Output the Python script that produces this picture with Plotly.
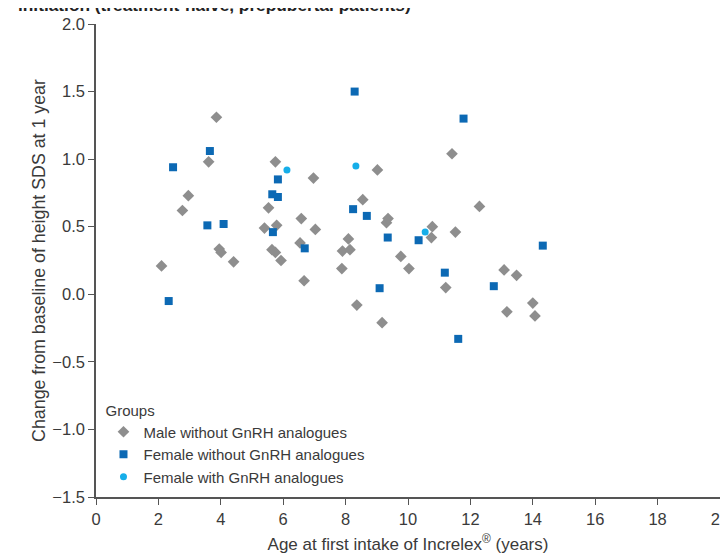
import plotly.graph_objects as go

# Male without GnRH analogues
male_x = [2.10, 2.77, 2.96, 3.61, 3.86, 3.95, 4.01, 4.41, 5.40, 5.53, 5.64, 5.75, 5.75, 5.79,
          5.93, 6.54, 6.58, 6.67, 6.97, 7.03, 7.88, 7.90, 8.09, 8.14, 8.36, 8.55, 9.02, 9.17,
          9.31, 9.36, 9.77, 10.03, 10.75, 10.78, 11.21, 11.41, 11.52, 12.29, 13.08, 13.17,
          13.48, 14.00, 14.07]
male_y = [0.21, 0.62, 0.73, 0.98, 1.31, 0.335, 0.31, 0.24, 0.49, 0.64, 0.33, 0.31, 0.98, 0.51,
          0.25, 0.38, 0.56, 0.10, 0.86, 0.48, 0.19, 0.32, 0.41, 0.33, -0.08, 0.70, 0.92, -0.21,
          0.53, 0.56, 0.28, 0.19, 0.42, 0.50, 0.05, 1.04, 0.46, 0.65, 0.18, -0.13,
          0.14, -0.065, -0.16]

# Female without GnRH analogues
fem_x = [2.33, 2.47, 3.57, 3.65, 4.09, 5.65, 5.67, 5.83, 5.83, 6.69, 8.24, 8.29, 8.68, 9.09,
         9.35, 10.34, 11.18, 11.61, 11.78, 12.75, 14.32]
fem_y = [-0.05, 0.94, 0.51, 1.06, 0.52, 0.74, 0.46, 0.85, 0.72, 0.34, 0.63, 1.50, 0.58, 0.045,
         0.42, 0.40, 0.16, -0.33, 1.30, 0.06, 0.36]

# Female with GnRH analogues
femg_x = [6.12, 8.33, 10.55]
femg_y = [0.92, 0.95, 0.46]

x_ticks = [0, 2, 4, 6, 8, 10, 12, 14, 16, 18, 20]
y_ticks = [-1.5, -1.0, -0.5, 0.0, 0.5, 1.0, 1.5, 2.0]
y_tick_text = ["\u22121.5", "\u22121.0", "\u22120.5", "0.0", "0.5", "1.0", "1.5", "2.0"]

FONT = "Liberation Sans, Arial, sans-serif"
TXT = "#3a3a3a"

fig = go.Figure()
fig.add_trace(go.Scatter(x=male_x, y=male_y, mode="markers", name="Male without GnRH analogues",
                         marker=dict(symbol="diamond", size=9, color="#8e8e8e", line=dict(width=0))))
fig.add_trace(go.Scatter(x=fem_x, y=fem_y, mode="markers", name="Female without GnRH analogues",
                         marker=dict(symbol="square", size=8, color="#0c69b4", line=dict(width=0))))
fig.add_trace(go.Scatter(x=femg_x, y=femg_y, mode="markers", name="Female with GnRH analogues",
                         marker=dict(symbol="circle", size=7, color="#16aee9", line=dict(width=0))))

# the page body adds an 8 px offset, so the figure is sized to fit the window
fig.update_layout(
    width=720, height=546,
    margin=dict(l=88, r=8, t=16, b=57),
    paper_bgcolor="white", plot_bgcolor="white",
    font=dict(family=FONT, size=15, color=TXT),
    showlegend=True,
    legend=dict(title=dict(text="Groups", font=dict(size=15, color=TXT)),
                x=0.012, y=0.2135, xanchor="left", yanchor="top",
                bgcolor="rgba(255,255,255,0)", font=dict(size=15, color=TXT),
                itemsizing="trace", tracegroupgap=0),
    xaxis=dict(range=[0, 20], tickvals=x_ticks, showgrid=False, zeroline=False,
               showline=True, linecolor="#555555", linewidth=1.5,
               ticks="outside", ticklen=6, tickcolor="#555555", tickwidth=1.2,
               tickfont=dict(size=16.5, color=TXT), automargin=False,
               ticklabeloverflow="allow",
               title=dict(text="Age at first intake of Increlex<sup>®</sup> (years)",
                          font=dict(size=17, color=TXT), standoff=13)),
    yaxis=dict(range=[-1.5, 2.0], tickvals=y_ticks, ticktext=y_tick_text, showgrid=False,
               zeroline=False, showline=True, linecolor="#555555", linewidth=1.5,
               ticks="outside", ticklen=6, tickcolor="#555555", tickwidth=1.2,
               tickfont=dict(size=16.5, color=TXT), automargin=False,
               ticklabeloverflow="allow",
               title=dict(text="Change from baseline of height SDS at 1 year",
                          font=dict(size=17.8, color=TXT), standoff=2)),
    annotations=[dict(text="<b>initiation (treatment-naïve, prepubertal patients)</b>",
                      xref="paper", yref="paper", x=-0.128, y=1.015,
                      xanchor="left", yanchor="bottom", showarrow=False,
                      font=dict(size=17.3, color="#222222"))],
)

fig.write_html("out.html")
